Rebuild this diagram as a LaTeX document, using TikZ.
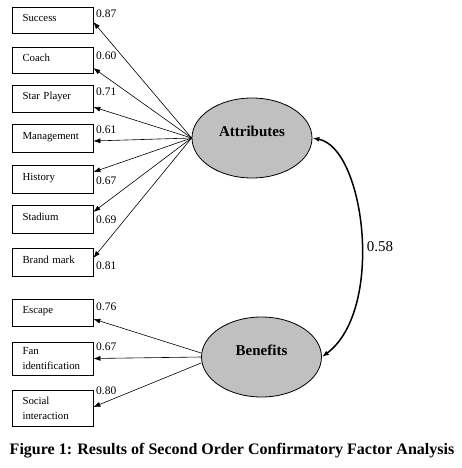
\documentclass[tikz,border=0pt]{standalone}
\usepackage{fontspec}
\setmainfont{Liberation Serif}
\usetikzlibrary{arrows.meta,shapes.geometric}
\definecolor{latgray}{RGB}{192,192,192}
\begin{document}
\begin{tikzpicture}[x=1pt,y=-1pt,
  indbox/.style={draw, line width=0.7pt, text width=60pt, inner xsep=10.5pt, inner ysep=0pt, align=left, font=\fontsize{10.8}{15}\selectfont},
  single/.style={text height=7.5pt, text depth=5pt},
  latent/.style={ellipse, draw, fill=latgray, line width=0.8pt, minimum width=120pt, minimum height=80pt, inner sep=0pt, text height=11pt, text depth=15pt, font=\fontsize{15}{18}\selectfont\bfseries},
  loadlab/.style={anchor=west, inner sep=0pt, font=\fontsize{11.5}{13}\selectfont},
  arr/.style={-{Latex[length=7pt,width=5pt]}, line width=0.6pt},
  curv/.style={{Latex[length=7pt,width=5pt]}-{Latex[length=7pt,width=5pt]}, line width=1.5pt}
]
\useasboundingbox (0,0) rectangle (462,468);
% indicators
\node[indbox,single,minimum height=26pt] (succ)  at (52.5,20)   {Success};
\node[indbox,single,minimum height=26pt] (coach) at (52.5,60)   {Coach};
\node[indbox,single,minimum height=27pt] (star)  at (52.5,98.5) {Star Player};
\node[indbox,single,minimum height=28pt] (mgmt)  at (52.5,138)  {Management};
\node[indbox,single,minimum height=28pt] (hist)  at (52.5,179)  {History};
\node[indbox,single,minimum height=28pt] (stad)  at (52.5,219)  {Stadium};
\node[indbox,single,minimum height=28pt] (brand) at (52.5,262)  {Brand mark};
\node[indbox,single,minimum height=27pt] (esc)   at (52.5,312.5){Escape};
\node[indbox,minimum height=33pt] (fan)   at (52.5,358.5) {Fan\\identification};
\node[indbox,minimum height=36pt] (soc)   at (52.5,408)   {Social\\interaction};
% latent variables
\node[latent] (attr) at (252,138) {Attributes};
\node[latent] (ben)  at (261.5,357) {Benefits};
% loadings
\draw[arr] (attr.west) -- ([yshift=-2pt]succ.east);
\draw[arr] (attr.west) -- ([yshift=-8pt]coach.east);
\draw[arr] (attr.west) -- ([yshift=-8.5pt]star.east);
\draw[arr] (attr.west) -- ([yshift=-3pt]mgmt.east);
\draw[arr] (attr.west) -- ([yshift=7pt]hist.east);
\draw[arr] (attr.west) -- ([yshift=7pt]stad.east);
\draw[arr] (attr.west) -- ([yshift=4pt]brand.east);
\draw[arr] ([yshift=4pt]ben.west) -- ([yshift=-6.5pt]esc.east);
\draw[arr] (ben.west) -- (fan.east);
\draw[arr] ([yshift=-6pt]ben.west) -- ([yshift=1pt]soc.east);
% loading labels
\node[loadlab] (l1)  at (96,14)  {0.87};
\node[loadlab] (l2)  at (96,56)  {0.60};
\node[loadlab] (l3)  at (96,92)  {0.71};
\node[loadlab] (l4)  at (96,130) {0.61};
\node[loadlab] (l5)  at (96,181) {0.67};
\node[loadlab] (l6)  at (96,220) {0.69};
\node[loadlab] (l7)  at (96,266) {0.81};
\node[loadlab] (l8)  at (96,307) {0.76};
\node[loadlab] (l9)  at (96,347) {0.67};
\node[loadlab] (l10) at (96,391) {0.80};
% correlation
\draw[curv] (attr.east) .. controls (365,148) and (385,310) .. (ben.east);
\node[font=\fontsize{15}{18}\selectfont] (corr) at (380,247) {0.58};
% caption
\node[font=\fontsize{16}{19}\selectfont\bfseries] (cap) at (232,451) {Figure 1: Results of Second Order Confirmatory Factor Analysis};
\end{tikzpicture}
\end{document}
